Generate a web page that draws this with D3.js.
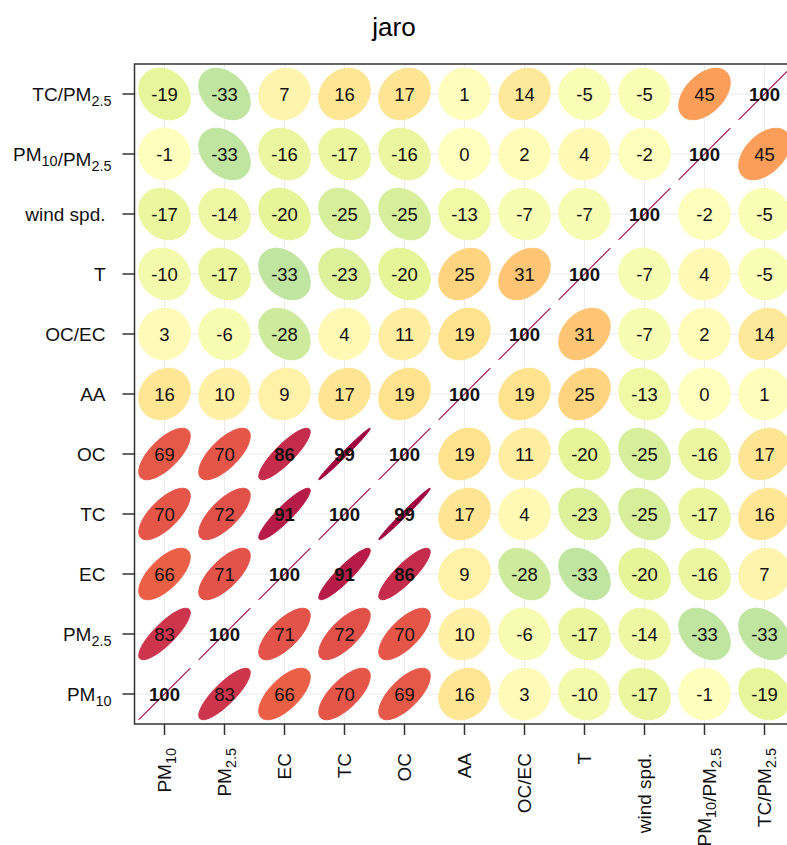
<!DOCTYPE html>
<html>
<head>
<meta charset="utf-8">
<script src="https://cdn.jsdelivr.net/npm/d3@7"></script>
<style>
  body { margin: 0; background: #fff; }
  text { font-family: "Liberation Sans", Arial, sans-serif; }
</style>
</head>
<body>
<div id="app"></div>
<script>
// variables, in plot order (bottom to top on y, left to right on x)
const vars = ['PM_{10}', 'PM_{2.5}', 'EC', 'TC', 'OC', 'AA', 'OC/EC', 'T', 'wind spd.', 'PM_{10}/PM_{2.5}', 'TC/PM_{2.5}'];

// correlation matrix x100, rows in the same order as vars
const corr = [
  [100, 83, 66, 70, 69, 16, 3, -10, -17, -1, -19],
  [83, 100, 71, 72, 70, 10, -6, -17, -14, -33, -33],
  [66, 71, 100, 91, 86, 9, -28, -33, -20, -16, 7],
  [70, 72, 91, 100, 99, 17, 4, -23, -25, -17, 16],
  [69, 70, 86, 99, 100, 19, 11, -20, -25, -16, 17],
  [16, 10, 9, 17, 19, 100, 19, 25, -13, 0, 1],
  [3, -6, -28, 4, 11, 19, 100, 31, -7, 2, 14],
  [-10, -17, -33, -23, -20, 25, 31, 100, -7, 4, -5],
  [-17, -14, -20, -25, -25, -13, -7, -7, 100, -2, -5],
  [-1, -33, -16, -17, -16, 0, 2, 4, -2, 100, 45],
  [-19, -33, 7, 16, 17, 1, 14, -5, -5, 45, 100]
];

const title = 'jaro';

// reversed brewer Spectral, -100 .. 100
const palette = ['#5E4FA2', '#3288BD', '#66C2A5', '#ABDDA4', '#E6F598', '#FFFFBF',
                 '#FEE08B', '#FDAE61', '#F46D43', '#D53E4F', '#9E0142'];

const conf = {
  width: 787,
  height: 845,
  left: 134.5,
  right: 794.5,
  top: 64,
  bottom: 724
}

const svg = d3.select('#app').append('svg')
  .attr('width', conf.width)
  .attr('height', conf.height);

const x = d3.scaleBand().domain(vars).range([conf.left, conf.right]);
const y = d3.scaleBand().domain(vars).range([conf.bottom, conf.top]);
const color = d3.scaleLinear()
  .domain(palette.map((c, i) => -100 + i * 20))
  .range(palette)
  .interpolate(d3.interpolateRgb);

const cx = v => x(v) + x.bandwidth() / 2;
const cy = v => y(v) + y.bandwidth() / 2;

// label markup -> tspans with subscripts
function writeLabel(sel, label) {
  label.split(/(_\{[^}]*\})/).filter(s => s.length).forEach(part => {
    if (part.startsWith('_{')) {
      sel.append('tspan')
        .attr('font-size', '0.76em')
        .attr('dy', '0.35em')
        .text(part.slice(2, -1));
      sel.append('tspan').attr('dy', '-0.27em').text('');
    } else {
      sel.append('tspan').text(part);
    }
  });
}

// title
svg.append('text')
  .attr('x', 394)
  .attr('y', 36)
  .attr('text-anchor', 'middle')
  .attr('font-size', 26)
  .text(title);

// grid
const grid = svg.append('g').attr('stroke', '#ebebeb').attr('stroke-width', 1);
grid.selectAll('line.v')
  .data(vars)
  .join('line')
  .attr('x1', d => cx(d)).attr('x2', d => cx(d))
  .attr('y1', conf.top).attr('y2', conf.bottom);
grid.selectAll('line.h')
  .data(vars)
  .join(enter => enter.append('line'))
  .attr('class', 'h')
  .attr('y1', d => cy(d)).attr('y2', d => cy(d))
  .attr('x1', conf.left).attr('x2', conf.right);

// cells
const cells = [];
vars.forEach((rv, i) => {
  vars.forEach((cv, j) => {
    cells.push({ row: rv, col: cv, value: corr[i][j] });
  });
});

const t = Math.sqrt(-2 * Math.log(0.1)); // sqrt(qchisq(0.9, 2))
const rad = t * 0.2 * x.bandwidth();
const angles = d3.range(50).map(k => k * 2 * Math.PI / 49);

function ellipse(d) {
  const dd = Math.acos(d.value / 100);
  return angles.map(a => [
    cx(d.col) + rad * Math.cos(a + dd / 2),
    cy(d.row) - rad * Math.cos(a - dd / 2)
  ]);
}

svg.append('g')
  .selectAll('path')
  .data(cells)
  .join('path')
  .attr('d', d => d3.line()(ellipse(d)) + 'Z')
  .attr('fill', d => color(d.value))
  .attr('stroke', d => color(d.value))
  .attr('stroke-width', 1);

svg.append('g')
  .selectAll('text')
  .data(cells)
  .join('text')
  .attr('x', d => cx(d.col))
  .attr('y', d => cy(d.row))
  .attr('dy', '0.36em')
  .attr('text-anchor', 'middle')
  .attr('font-size', 18.5)
  .attr('font-weight', d => Math.abs(d.value) >= 85 ? 'bold' : 'normal')
  .attr('fill', '#111')
  .text(d => d.value);

// axes
const yAxis = svg.append('g')
  .attr('transform', `translate(${conf.left},0)`)
  .call(d3.axisLeft(y).tickSize(12).tickSizeOuter(0).tickFormat(''));
yAxis.select('.domain').remove();
yAxis.selectAll('.tick line').attr('stroke', '#333').attr('stroke-width', 1.5);
yAxis.selectAll('.tick').each(function (d) {
  const plain = !d.includes('_{');
  const txt = d3.select(this).append('text')
    .attr('x', plain ? -29 : -23)
    .attr('dy', '0.35em')
    .attr('text-anchor', 'end')
    .attr('fill', '#111')
    .attr('font-size', 19);
  writeLabel(txt, d);
});

const xAxis = svg.append('g')
  .attr('transform', `translate(0,${conf.bottom})`)
  .call(d3.axisBottom(x).tickSize(11).tickSizeOuter(0).tickFormat(''));
xAxis.select('.domain').remove();
xAxis.selectAll('.tick line').attr('stroke', '#333').attr('stroke-width', 1.5);
xAxis.selectAll('.tick').each(function (d) {
  const plain = !d.includes('_{');
  const txt = d3.select(this).append('text')
    .attr('transform', `translate(0,${plain ? 29 : 24}) rotate(-90)`)
    .attr('dy', '0.35em')
    .attr('text-anchor', 'end')
    .attr('fill', '#111')
    .attr('font-size', 19);
  writeLabel(txt, d);
});

// panel border
svg.append('rect')
  .attr('x', conf.left)
  .attr('y', conf.top)
  .attr('width', conf.right - conf.left)
  .attr('height', conf.bottom - conf.top)
  .attr('fill', 'none')
  .attr('stroke', '#333')
  .attr('stroke-width', 1.5);
</script>
</body>
</html>
